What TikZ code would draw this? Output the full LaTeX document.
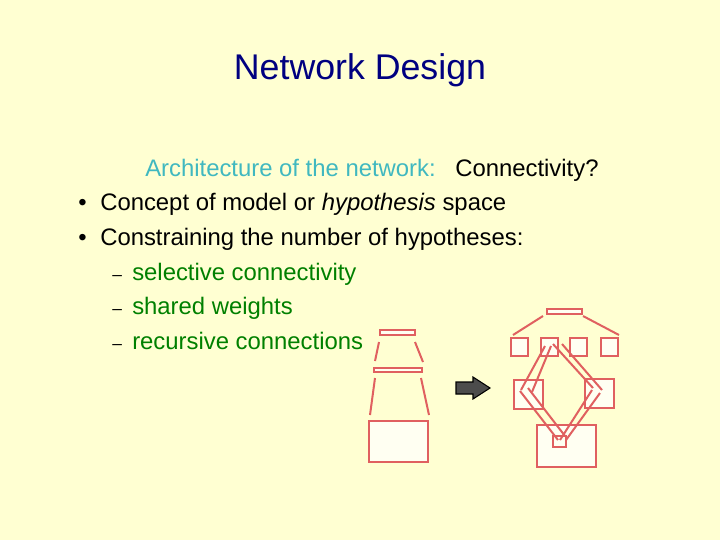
\documentclass[tikz,border=0pt]{standalone}
\usepackage{fontspec}
\setmainfont{Liberation Sans}
\definecolor{bg}{HTML}{FFFFD2}
\definecolor{ttl}{HTML}{000080}
\definecolor{cy}{HTML}{40B8C0}
\definecolor{gr}{HTML}{008000}
\definecolor{rd}{HTML}{E06060}
\definecolor{bx}{HTML}{FFFFF2}
\begin{document}
\begin{tikzpicture}[x=0.75pt,y=-0.75pt,
  txt/.style={anchor=base west,inner sep=0,font=\fontsize{17.9}{21}\selectfont},
  rb/.style={draw=rd,fill=bx,line width=1.5pt},
  rl/.style={draw=rd,line width=1.5pt}]
\fill[bg] (0,0) rectangle (720,540);
\useasboundingbox (0,0) rectangle (720,540);
\node[anchor=base,inner sep=0,text=ttl,font=\fontsize{26.8}{31}\selectfont] (title) at (360,79) {Network Design};
\node[txt,text=cy] (arch) at (145,176) {Architecture of the network:};
\node[txt] (conn) at (455,176) {Connectivity?};
\node[txt] (b1) at (78,210) {•};
\node[txt] (t1) at (100,210) {Concept of model or \emph{hypothesis} space};
\node[txt] (b2) at (78,245) {•};
\node[txt] (t2) at (100,245) {Constraining the number of hypotheses:};
\foreach \y/\s [count=\i] in {280/selective connectivity,314/shared weights,349/recursive connections}{
  \node[txt,font=\fontsize{13}{15}\selectfont] (d\i) at (112,\y) {–};
  \node[txt,text=gr] (s\i) at (132,\y) {\s};
}
% left network
\draw[rb] (380,330) rectangle (415,335);
\draw[rb] (374,368) rectangle (422,372);
\draw[rb] (369,421) rectangle (428,462);
\draw[rl] (379,342) -- (375,361);
\draw[rl] (415,342) -- (423,362);
\draw[rl] (375,378) -- (370,415);
\draw[rl] (421,378) -- (429,415);
% arrow
\draw[fill=black!70,draw=black,line width=0.8pt] (456,382) -- (473,382) -- (473,377) -- (490,388) -- (473,399) -- (473,394) -- (456,394) -- cycle;
% right network
\draw[rb] (547,309) rectangle (582,314);
\draw[rl] (543,316) -- (513,335);
\draw[rl] (583,316) -- (619,335);
\foreach \x in {511,541,570,601}{\draw[rb] (\x,338) rectangle (\x+17,356);}
\draw[rb] (514,380) rectangle (543,409);
\draw[rb] (585,379) rectangle (614,408);
\draw[rb] (537,425) rectangle (596,467);
\draw[rb] (553,436) rectangle (566,447);
\draw[rl] (545,346) -- (521,390);
\draw[rl] (551,346) -- (532,392);
\draw[rl] (553,344) -- (593,388);
\draw[rl] (562,344) -- (602,390);
\draw[rl] (520,391) -- (558,440);
\draw[rl] (528,388) -- (565,436);
\draw[rl] (592,390) -- (560,440);
\draw[rl] (600,393) -- (566,440);
\end{tikzpicture}
\end{document}
